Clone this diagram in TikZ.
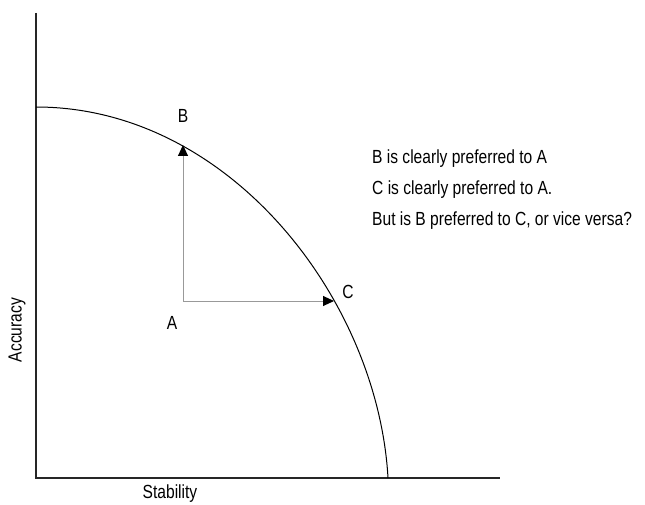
\documentclass[tikz,border=0pt]{standalone}
\usepackage{fontspec}
\setmainfont[FakeStretch=0.82]{Liberation Sans}
\usetikzlibrary{arrows.meta}
\begin{document}
\begin{tikzpicture}[x=1pt,y=-1pt,
  lbl/.style={inner sep=0pt,font=\fontsize{19}{23}\selectfont},
  axisline/.style={line width=1.1pt,color=black!85},
  frontier/.style={line width=1pt,black},
  move/.style={line width=0.9pt,color=black!40,-{Triangle[length=11pt,width=10pt,color=black]}}]
\useasboundingbox (0,0) rectangle (645,505);
% axes
\coordinate (ytop) at (36,13);
\coordinate (orig) at (36,478);
\coordinate (xend) at (500,478);
\draw[axisline] (ytop) -- (orig) -- (xend);
% frontier curve
\coordinate (fs) at (36,107);
\coordinate (fe) at (388,478);
\draw[frontier] (fs) .. controls (230,107) and (378,300) .. (fe);
% points
\coordinate (A0) at (183,301);
\coordinate (Bp) at (183,145);
\coordinate (Cp) at (334,301);
\draw[move] (A0) -- (Bp);
\draw[move] (A0) -- (Cp);
\node[lbl] (B) at (183,116) {B};
\node[lbl] (A) at (172,323) {A};
\node[lbl] (C) at (348,292) {C};
% statements
\node[lbl,anchor=west] (t1) at (372,159) {B is clearly preferred to A};
\node[lbl,anchor=west] (t2) at (372,190) {C is clearly preferred to A.};
\node[lbl,anchor=west] (t3) at (372,221) {But is B preferred to C, or vice versa?};
% axis labels
\node[lbl,rotate=90] (yl) at (17,330) {Accuracy};
\node[lbl] (xl) at (170,494) {Stability};
\end{tikzpicture}
\end{document}
